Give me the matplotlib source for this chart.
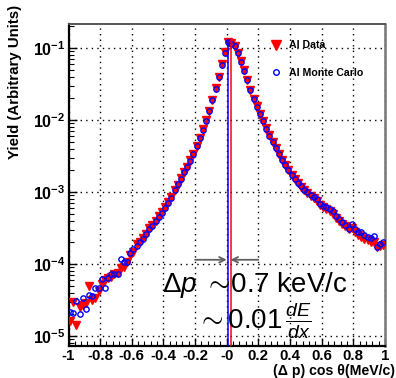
import numpy as np
import matplotlib
matplotlib.use("Agg")
import matplotlib.pyplot as plt
from matplotlib.lines import Line2D

plt.rcParams['font.family'] = ['Liberation Sans', 'DejaVu Sans']
plt.rcParams['mathtext.fontset'] = 'custom'
plt.rcParams['mathtext.rm'] = 'Liberation Sans'
plt.rcParams['mathtext.it'] = 'Liberation Sans:italic'
plt.rcParams['mathtext.bf'] = 'Liberation Sans:bold'

# Bin-Mitten (Breite 0.02) von -0.99 bis 0.99
bin_centers = np.linspace(-0.99, 0.99, 100)

# log10 der Ausbeute
mc_log10 = [
    -4.67, -4.68, -4.52, -4.70, -4.48, -4.62, -4.43, -4.44, -4.34, -4.34,
    -4.21, -4.34, -4.20, -4.14, -4.14, -4.14, -3.93, -3.97, -3.97, -3.85,
    -3.80, -3.75, -3.69, -3.66, -3.59, -3.52, -3.48, -3.40, -3.35, -3.29,
    -3.22, -3.15, -3.08, -2.97, -2.89, -2.82, -2.73, -2.65, -2.57, -2.47,
    -2.36, -2.25, -2.14, -2.01, -1.875, -1.73, -1.57, -1.40, -1.24, -1.07,
    -0.92, -0.94, -0.98, -1.07, -1.19, -1.32, -1.44, -1.59, -1.71, -1.82,
    -1.92, -2.02, -2.12, -2.22, -2.31, -2.39, -2.47, -2.55, -2.62, -2.69,
    -2.76, -2.82, -2.87, -2.92, -2.97, -3.00, -3.04, -3.07, -3.10, -3.17,
    -3.20, -3.21, -3.24, -3.27, -3.34, -3.38, -3.42, -3.46, -3.51, -3.44,
    -3.52, -3.56, -3.56, -3.60, -3.63, -3.64, -3.61, -3.76, -3.72, -3.70,
]
data_log10 = [
    -4.80, -4.53, -4.85, -4.60, -4.57, -4.55, -4.31, -4.50, -4.47, -4.38,
    -4.28, -4.22, -4.20, -4.18, -4.14, -4.12, -4.06, -4.04, -3.98, -3.88,
    -3.83, -3.72, -3.70, -3.64, -3.58, -3.50, -3.46, -3.40, -3.34, -3.28,
    -3.21, -3.14, -3.07, -2.98, -2.90, -2.81, -2.73, -2.65, -2.56, -2.47,
    -2.36, -2.25, -2.13, -2.00, -1.87, -1.72, -1.56, -1.40, -1.23, -1.06,
    -0.92, -0.93, -0.98, -1.07, -1.18, -1.31, -1.44, -1.58, -1.71, -1.81,
    -1.92, -2.02, -2.11, -2.21, -2.30, -2.39, -2.47, -2.55, -2.62, -2.69,
    -2.76, -2.82, -2.88, -2.93, -2.98, -3.02, -3.06, -3.09, -3.13, -3.18,
    -3.21, -3.24, -3.27, -3.31, -3.36, -3.40, -3.44, -3.48, -3.52, -3.50,
    -3.56, -3.60, -3.62, -3.65, -3.67, -3.70, -3.70, -3.76, -3.75, -3.74,
]

# Peak-Positionen (Mittelwerte) und Pfeil-Bereich
mc_peak_x = 0.008
data_peak_x = 0.024
peak_top = 0.13
arrow_y = 1.14e-4
arrow_left = -0.2
arrow_right = 0.2

x_ticks = [-1, -0.8, -0.6, -0.4, -0.2, 0, 0.2, 0.4, 0.6, 0.8, 1]
x_ticklabels = ["-1", "-0.8", "-0.6", "-0.4", "-0.2", "-0", "0.2", "0.4", "0.6", "0.8", "1"]
y_ticks = [1e-5, 1e-4, 1e-3, 1e-2, 1e-1]
y_ticklabels = [r"$\mathbf{10^{-5}}$", r"$\mathbf{10^{-4}}$", r"$\mathbf{10^{-3}}$",
                r"$\mathbf{10^{-2}}$", r"$\mathbf{10^{-1}}$"]

fig = plt.figure(figsize=(3.96, 3.78), dpi=100)
ax = fig.add_axes([0.173, 0.085, 0.799, 0.8515])

data_y = 10 ** np.array(data_log10)
mc_y = 10 ** np.array(mc_log10)

ax.plot(bin_centers, data_y, linestyle="none", marker="v", color="red", markersize=6, zorder=3)
ax.plot(bin_centers, mc_y, linestyle="none", marker="o", markerfacecolor="none",
        markeredgecolor="blue", markeredgewidth=1.0, markersize=3.8, zorder=4)

ax.set_yscale("log")
ax.set_xlim(-1, 1)
ax.set_ylim(7.26e-6, 0.215)

ax.vlines(mc_peak_x, 7.26e-6, peak_top, color="blue", linewidth=1.1, zorder=5)
ax.vlines(data_peak_x, 7.26e-6, peak_top, color="red", linewidth=1.1, zorder=5)

# Pfeile fuer die Aufloesung
arrow_style = dict(arrowstyle="->", color="#606060", lw=1.3, mutation_scale=10, shrinkA=0, shrinkB=0)
ax.annotate("", xy=(0.0, arrow_y), xytext=(arrow_left, arrow_y), arrowprops=arrow_style)
ax.annotate("", xy=(data_peak_x, arrow_y), xytext=(arrow_right, arrow_y), arrowprops=arrow_style)

ax.set_xticks(x_ticks)
ax.set_xticklabels(x_ticklabels)
ax.set_yticks(y_ticks)
ax.set_yticklabels(y_ticklabels)
ax.xaxis.set_minor_locator(matplotlib.ticker.MultipleLocator(0.04))
ax.yaxis.set_minor_locator(matplotlib.ticker.LogLocator(base=10, subs=np.arange(2, 10)))
ax.yaxis.set_minor_formatter(matplotlib.ticker.NullFormatter())
ax.tick_params(which="both", direction="in", top=False, right=False, color="black")
ax.tick_params(which="major", length=6, width=1.0, labelsize=11.5)
ax.tick_params(axis="x", which="major", labelsize=10.8, pad=2.5)
ax.tick_params(axis="y", which="major", pad=2)
ax.tick_params(which="minor", length=3.5, width=0.8)
for lbl in ax.get_xticklabels():
    lbl.set_fontweight("bold")

ax.grid(True, which="major", color="black", linestyle=(0, (1, 3)), linewidth=1.0)

ax.spines["left"].set_linewidth(1.6)
ax.spines["bottom"].set_linewidth(1.6)
ax.spines["top"].set_color("#555555")
ax.spines["right"].set_color("#777777")
ax.spines["top"].set_linewidth(1.4)
ax.spines["right"].set_linewidth(1.8)

# Legende
handles = [
    Line2D([], [], linestyle="none", marker="v", color="red", markersize=7),
    Line2D([], [], linestyle="none", marker="o", markerfacecolor="none",
           markeredgecolor="blue", markeredgewidth=1.0, markersize=4),
]
ax.legend(handles, ["Al Data", "Al Monte Carlo"], loc="upper left",
          bbox_to_anchor=(265 / 396, 1 - 35 / 378), bbox_transform=fig.transFigure,
          frameon=False, handlelength=1.0, handletextpad=0.75, labelspacing=1.65,
          prop={"weight": "bold", "size": 7.6}, borderpad=0)

fig.text(15 / 396, 1 - 5 / 378, "Yield (Arbitrary Units)", rotation=90, ha="center", va="top",
         fontsize=10.8, fontweight="bold")
fig.text(395 / 396, 1 - 371 / 378, "(Δ p) cos θ(MeV/c)", ha="right", va="center",
         fontsize=10.2, fontweight="bold")

fig.text(162 / 396, 1 - 292 / 378, r"$\Delta p$ $\sim\!$0.7 keV/c", ha="left", va="baseline",
         fontsize=20)
fig.text(197 / 396, 1 - 329 / 378, r"$\sim 0.01\,\frac{dE}{dx}$", ha="left", va="baseline",
         fontsize=20)

fig.savefig("out.png", dpi=100)
